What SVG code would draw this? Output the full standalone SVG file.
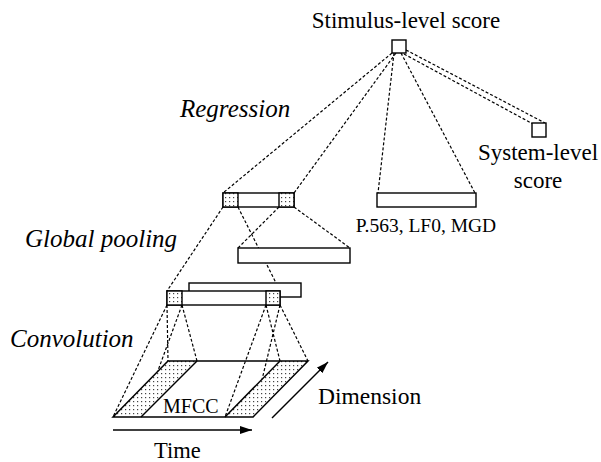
<svg xmlns="http://www.w3.org/2000/svg" width="601" height="462" viewBox="0 0 601 462">
<style>
.t{font-family:"Liberation Serif","Times New Roman",serif;fill:#000}
.it{font-style:italic}
.box{fill:#fff;stroke:#000;stroke-width:1.4}
.dot{fill:url(#stip);stroke:#000;stroke-width:1.4}
.d{stroke:#000;stroke-width:1.2;stroke-dasharray:3,2;fill:none}
.s{stroke:#000;stroke-width:1.5;fill:none}
</style>
<defs>
<pattern id="stip" width="4" height="4" patternUnits="userSpaceOnUse">
<rect width="4" height="4" fill="#fff"/>
<rect x="1" y="1" width="1.2" height="1.2" fill="#444"/>
</pattern>
<marker id="ah" viewBox="0 0 12 10" refX="12" refY="5" markerWidth="12" markerHeight="10" markerUnits="userSpaceOnUse" orient="auto">
<path d="M0,1 L12,5 L0,9 Z" fill="#000"/>
</marker>
</defs>

<g id="connectors">
<line class="d" x1="392" y1="53" x2="223" y2="193"/>
<line class="d" x1="396" y1="53" x2="294" y2="193"/>
<line class="d" x1="394" y1="53" x2="378" y2="193"/>
<line class="d" x1="401" y1="53" x2="475" y2="193"/>
<line class="d" x1="404" y1="54" x2="533" y2="124"/>
<line class="d" x1="406" y1="50" x2="545" y2="123"/>
<line class="d" x1="223" y1="207" x2="167" y2="291"/>
<line class="d" x1="238" y1="207" x2="280" y2="291"/>
<line class="d" x1="279" y1="207" x2="238" y2="248"/>
<line class="d" x1="294" y1="207" x2="350" y2="248"/>
<line class="d" x1="167" y1="305" x2="113" y2="417"/>
<line class="d" x1="167" y1="305" x2="168" y2="361"/>
<line class="d" x1="182" y1="305" x2="197" y2="361"/>
<line class="d" x1="182" y1="305" x2="141" y2="417"/>
<line class="d" x1="266" y1="305" x2="225" y2="417"/>
<line class="d" x1="266" y1="305" x2="280" y2="361"/>
<line class="d" x1="280" y1="305" x2="253" y2="417"/>
<line class="d" x1="280" y1="305" x2="308" y2="361"/>
</g>

<g id="stimulus-score">
<rect class="box" x="392" y="40" width="14" height="13"/>
<text class="t" x="406" y="28" font-size="23" text-anchor="middle">Stimulus-level score</text>
</g>

<g id="system-score">
<rect class="box" x="532" y="123" width="14" height="14"/>
<text class="t" x="538" y="160" font-size="23" text-anchor="middle">System-level</text>
<text class="t" x="538" y="188" font-size="23" text-anchor="middle">score</text>
</g>

<g id="regression-label">
<text class="t it" x="180" y="117" font-size="25">Regression</text>
</g>

<g id="pooled-vector">
<rect class="box" x="223" y="193" width="71" height="14"/>
<rect class="dot" x="223" y="193" width="15" height="14"/>
<rect class="dot" x="279" y="193" width="15" height="14"/>
</g>

<g id="features">
<rect class="box" x="377" y="193" width="99" height="14"/>
<text class="t" x="426" y="232" font-size="19.5" text-anchor="middle">P.563, LF0, MGD</text>
</g>

<g id="pooling-label">
<text class="t it" x="25" y="247" font-size="25">Global pooling</text>
</g>

<g id="pooling-bar">
<rect class="box" x="238" y="248" width="112" height="15"/>
</g>

<g id="conv-maps">
<rect class="box" x="189" y="283" width="112" height="14"/>
<rect class="box" x="167" y="291" width="113" height="14"/>
<rect class="dot" x="167" y="291" width="15" height="14"/>
<rect class="dot" x="266" y="291" width="14" height="14"/>
</g>

<g id="conv-label">
<text class="t it" x="10" y="347" font-size="25">Convolution</text>
</g>

<g id="mfcc">
<polygon points="113,417 141,417 197,361 168,361" fill="url(#stip)"/>
<polygon points="225,417 253,417 308,361 280,361" fill="url(#stip)"/>
<polygon class="s" points="113,417 253,417 308,361 168,361"/>
<line class="s" x1="141" y1="417" x2="197" y2="361"/>
<line class="s" x1="225" y1="417" x2="280" y2="361"/>
<text class="t" x="163" y="413" font-size="20">MFCC</text>
</g>

<g id="time-axis">
<line class="s" x1="113" y1="430" x2="252" y2="430" marker-end="url(#ah)"/>
<text class="t" x="154" y="458" font-size="22.5">Time</text>
</g>

<g id="dimension-axis">
<line class="s" x1="272" y1="418" x2="328" y2="362" marker-end="url(#ah)"/>
<text class="t" x="318" y="404" font-size="23.5">Dimension</text>
</g>
</svg>
